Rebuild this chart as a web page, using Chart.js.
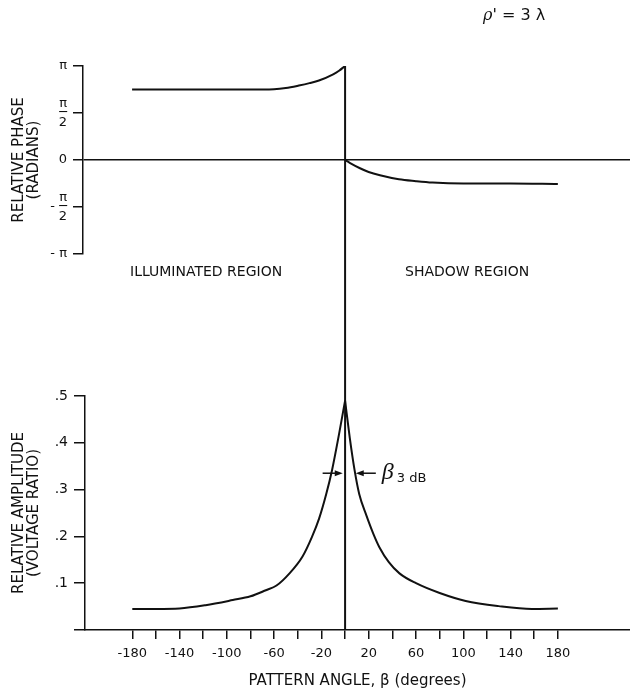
<!DOCTYPE html>
<html>
<head>
<meta charset="utf-8">
<script src="https://cdn.jsdelivr.net/npm/chart.js@4.4.0/dist/chart.umd.min.js"></script>
<style>
  body { margin: 0; background: #fff; }
  #wrap { position: relative; width: 630px; height: 690px; }
  canvas { position: absolute; left: 0; top: 0; }
  .txt { position: absolute; font-family: "DejaVu Sans"; color: #111; white-space: nowrap; }
</style>
</head>
<body>
<div id="wrap">
  <canvas id="phase-chart" width="630" height="690"></canvas>
  <canvas id="amp-chart" width="630" height="690"></canvas>
  <div class="txt" style="left:483px; top:5px; font-size:16px;"><i style="font-family:'DejaVu Serif'">ρ</i>' = 3 λ</div>
  <div class="txt" style="left:130px; top:263px; font-size:14px;">ILLUMINATED REGION</div>
  <div class="txt" style="left:405px; top:263px; font-size:14px;">SHADOW REGION</div>
</div>
<script>
// relative phase, in units of pi, illuminated side (beta < 0)
var litAngles = [-180, -140, -100, -70, -60, -50, -39, -30, -22, -10, -5, 0];
var litPhase = [0.75, 0.75, 0.75, 0.75, 0.752, 0.765, 0.792, 0.818, 0.846, 0.912, 0.95, 1.0];
// shadow side (beta > 0)
var shadowAngles = [0, 4, 12.7, 20, 29.6, 45.6, 60, 74, 100, 140, 180];
var shadowPhase = [0, -0.03, -0.088, -0.127, -0.162, -0.205, -0.225, -0.24, -0.25, -0.25, -0.255];

// relative amplitude (voltage ratio)
var ampLeftAngles = [-180, -160, -140, -118, -95, -80, -67, -58, -47, -36, -28, -22, -16, -11, -5, 0];
var ampLeft = [0.045, 0.045, 0.046, 0.053, 0.064, 0.072, 0.085, 0.095, 0.121, 0.157, 0.199, 0.238, 0.29, 0.342, 0.42, 0.49];
var ampRightAngles = [0, 4, 8, 12, 18, 24, 29, 37, 46, 60, 80, 102, 130, 158, 180];
var ampRight = [0.49, 0.41, 0.342, 0.29, 0.245, 0.205, 0.177, 0.145, 0.121, 0.10, 0.079, 0.062, 0.051, 0.045, 0.046];

// 3 dB beamwidth markers: [tail, head] in degrees, drawn at the half power level
var halfPowerLevel = 0.335;
var arrowLeft = [-19, -2];
var arrowRight = [26, 9];
var shadowBoundary = 0;

var xTickValues = [-180, -160, -140, -120, -100, -80, -60, -40, -20, 0, 20, 40, 60, 80, 100, 120, 140, 160, 180];
var xTickLabels = [-180, -140, -100, -60, -20, 20, 60, 100, 140, 180];
var ampTickLabels = { 0.1: '.1', 0.2: '.2', 0.3: '.3', 0.4: '.4', 0.5: '.5' };

var ink = '#111';
var fontFam = 'DejaVu Sans';

function pts(xs, ys) {
  return xs.map(function(x, i) { return { x: x, y: ys[i] }; });
}

function curve(xs, ys) {
  return {
    data: pts(xs, ys),
    borderColor: ink,
    borderWidth: 2,
    pointRadius: 0,
    cubicInterpolationMode: 'monotone'
  };
}

var phaseChart = new Chart(document.getElementById('phase-chart'), {
  type: 'line',
  data: { datasets: [curve(litAngles, litPhase), curve(shadowAngles, shadowPhase)] },
  options: {
    responsive: false,
    animation: false,
    layout: { padding: { top: 66, bottom: 436, left: 0, right: 0 } },
    plugins: { legend: { display: false }, tooltip: { enabled: false } },
    scales: {
      x: { type: 'linear', min: -221.5, max: 241, display: false },
      y: {
        min: -1,
        max: 1,
        afterFit: function(s) { s.width = 83; },
        ticks: {
          stepSize: 0.25,
          color: ink,
          padding: 6,
          font: { family: fontFam, size: 13, lineHeight: 0.72 },
          callback: function(v) {
            if (v === 1) return 'π';
            if (v === 0.5) return ['π', '─', '2'];
            if (v === 0) return '0';
            if (v === -0.5) return ['π', '- ─', '2'];
            if (v === -1) return '- π';
            return '';
          }
        },
        grid: {
          color: function(ctx) { return ctx.tick && ctx.tick.value === 0 ? ink : 'rgba(0,0,0,0)'; },
          tickColor: ink,
          tickLength: 10,
          lineWidth: 1.5
        },
        border: { color: ink, width: 1.5 },
        title: {
          display: true,
          text: ['RELATIVE PHASE', '(RADIANS)'],
          color: ink,
          font: { family: fontFam, size: 15, lineHeight: 1 },
          padding: { top: 12, bottom: 0 }
        }
      }
    }
  }
});

var markPlugin = {
  id: 'marks',
  afterDatasetsDraw: function(chart) {
    var ctx = chart.ctx;
    var xs = chart.scales.x, ys = chart.scales.y;
    ctx.save();
    ctx.strokeStyle = ink;
    ctx.fillStyle = ink;
    // shadow boundary, from the phase jump down to the angle axis
    var bx = xs.getPixelForValue(shadowBoundary);
    ctx.lineWidth = 2;
    ctx.beginPath();
    ctx.moveTo(bx, phaseChart.scales.y.getPixelForValue(litPhase[litPhase.length - 1]));
    ctx.lineTo(bx, ys.getPixelForValue(0));
    ctx.stroke();
    // beamwidth arrows
    var y = ys.getPixelForValue(halfPowerLevel);
    [arrowLeft, arrowRight].forEach(function(a) {
      var x0 = xs.getPixelForValue(a[0]), x1 = xs.getPixelForValue(a[1]);
      var dir = x1 > x0 ? 1 : -1;
      ctx.lineWidth = 1.5;
      ctx.beginPath();
      ctx.moveTo(x0, y);
      ctx.lineTo(x1 - dir * 6, y);
      ctx.stroke();
      ctx.beginPath();
      ctx.moveTo(x1, y);
      ctx.lineTo(x1 - dir * 8, y - 3);
      ctx.lineTo(x1 - dir * 8, y + 3);
      ctx.closePath();
      ctx.fill();
    });
    var lx = xs.getPixelForValue(arrowRight[0]) + 6;
    ctx.textBaseline = 'middle';
    ctx.textAlign = 'left';
    ctx.font = 'italic 24px "Liberation Serif"';
    ctx.fillText('β', lx, y - 1);
    ctx.font = '13px ' + fontFam;
    ctx.fillText('3 dB', lx + 15, y + 5);
    ctx.restore();
  }
};

var ampChart = new Chart(document.getElementById('amp-chart'), {
  type: 'line',
  data: { datasets: [curve(ampLeftAngles, ampLeft), curve(ampRightAngles, ampRight)] },
  options: {
    responsive: false,
    animation: false,
    layout: { padding: { top: 396, bottom: 0, left: 0, right: 0 } },
    plugins: { legend: { display: false }, tooltip: { enabled: false } },
    scales: {
      x: {
        type: 'linear',
        min: -220,
        max: 241,
        afterBuildTicks: function(s) { s.ticks = xTickValues.map(function(v) { return { value: v }; }); },
        afterFit: function(s) { s.height = 60; },
        ticks: {
          autoSkip: false,
          maxRotation: 0,
          color: ink,
          padding: 7,
          font: { family: fontFam, size: 13 },
          callback: function(v) { return xTickLabels.indexOf(v) >= 0 ? String(v) : ''; }
        },
        grid: { drawOnChartArea: false, tickColor: ink, tickLength: 9, lineWidth: 1.5 },
        border: { color: ink, width: 1.5 },
        title: {
          display: true,
          text: 'PATTERN ANGLE, β (degrees)',
          color: ink,
          font: { family: fontFam, size: 15 },
          padding: { top: 0, bottom: 0 }
        }
      },
      y: {
        min: 0,
        max: 0.5,
        afterFit: function(s) { s.width = 85; },
        ticks: {
          stepSize: 0.1,
          color: ink,
          padding: 6,
          font: { family: fontFam, size: 14 },
          callback: function(v) { return ampTickLabels[Math.round(v * 10) / 10] || ''; }
        },
        grid: { drawOnChartArea: false, tickColor: ink, tickLength: 11, lineWidth: 1.5 },
        border: { color: ink, width: 1.5 },
        title: {
          display: true,
          text: ['RELATIVE AMPLITUDE', '(VOLTAGE RATIO)'],
          color: ink,
          font: { family: fontFam, size: 15, lineHeight: 1 },
          padding: { top: 12, bottom: 0 }
        }
      }
    }
  },
  plugins: [markPlugin]
});
</script>
</body>
</html>
